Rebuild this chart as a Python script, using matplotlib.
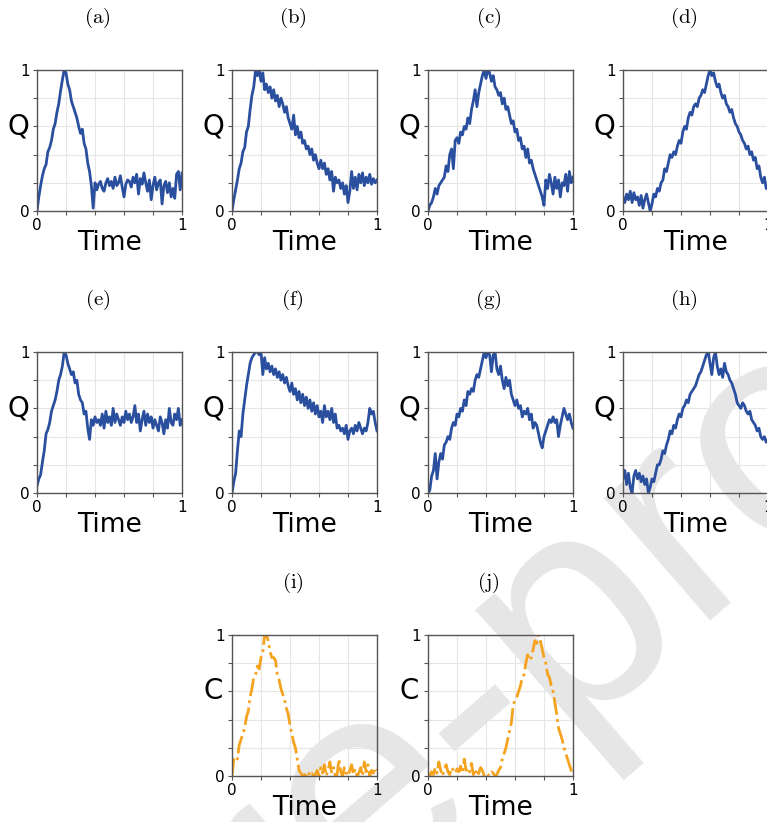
"""Ten small time-series panels (Q and C vs normalised time), 4-4-2 layout."""
import matplotlib
import numpy as np

matplotlib.use("Agg")
import matplotlib.pyplot as plt

plt.rcParams["mathtext.fontset"] = "cm"

W, H = 767, 822

# y-values sampled on a uniform time grid 0..1 (81 points each)
q_a = [0.00, 0.10, 0.18, 0.25, 0.30, 0.33, 0.42, 0.45, 0.50, 0.58,
       0.62, 0.70, 0.76, 0.85, 0.93, 1.00, 0.98, 0.90, 0.86, 0.78,
       0.74, 0.70, 0.66, 0.60, 0.55, 0.58, 0.48, 0.44, 0.34, 0.28,
       0.18, 0.02, 0.20, 0.15, 0.19, 0.21, 0.16, 0.14, 0.20, 0.23,
       0.18, 0.21, 0.16, 0.24, 0.18, 0.20, 0.25, 0.17, 0.10, 0.19,
       0.22, 0.21, 0.17, 0.24, 0.20, 0.26, 0.12, 0.23, 0.19, 0.27,
       0.20, 0.14, 0.22, 0.08, 0.18, 0.24, 0.15, 0.20, 0.22, 0.05,
       0.18, 0.21, 0.13, 0.20, 0.10, 0.16, 0.09, 0.26, 0.28, 0.15,
       0.27]
q_b = [0.00, 0.08, 0.15, 0.22, 0.30, 0.34, 0.42, 0.45, 0.56, 0.60,
       0.72, 0.82, 0.88, 1.00, 0.96, 1.00, 0.92, 0.98, 0.86, 0.90,
       0.84, 0.88, 0.80, 0.86, 0.78, 0.82, 0.74, 0.80, 0.76, 0.70,
       0.74, 0.66, 0.62, 0.58, 0.68, 0.54, 0.60, 0.52, 0.56, 0.48,
       0.50, 0.44, 0.46, 0.40, 0.44, 0.36, 0.40, 0.34, 0.30, 0.36,
       0.30, 0.34, 0.26, 0.30, 0.22, 0.28, 0.14, 0.24, 0.20, 0.22,
       0.16, 0.20, 0.12, 0.18, 0.06, 0.14, 0.28, 0.16, 0.24, 0.15,
       0.26, 0.20, 0.27, 0.18, 0.24, 0.20, 0.26, 0.19, 0.23, 0.20,
       0.22]
q_c = [0.00, 0.04, 0.06, 0.10, 0.16, 0.12, 0.18, 0.20, 0.22, 0.24,
       0.32, 0.28, 0.40, 0.44, 0.30, 0.50, 0.52, 0.48, 0.56, 0.54,
       0.60, 0.58, 0.66, 0.62, 0.72, 0.78, 0.86, 0.74, 0.84, 0.90,
       0.96, 1.00, 0.94, 1.00, 0.98, 0.92, 0.96, 0.88, 0.86, 0.82,
       0.84, 0.76, 0.80, 0.72, 0.74, 0.68, 0.62, 0.64, 0.56, 0.58,
       0.50, 0.52, 0.44, 0.46, 0.38, 0.44, 0.34, 0.36, 0.30, 0.26,
       0.22, 0.18, 0.14, 0.10, 0.04, 0.22, 0.16, 0.26, 0.20, 0.12,
       0.24, 0.16, 0.22, 0.10, 0.20, 0.18, 0.26, 0.14, 0.28, 0.20,
       0.24]
q_d = [0.10, 0.06, 0.12, 0.08, 0.14, 0.06, 0.13, 0.08, 0.10, 0.04,
       0.11, 0.02, 0.08, 0.12, 0.06, 0.00, 0.05, 0.12, 0.10, 0.16,
       0.14, 0.20, 0.22, 0.30, 0.28, 0.34, 0.40, 0.38, 0.42, 0.40,
       0.46, 0.50, 0.48, 0.56, 0.60, 0.58, 0.66, 0.70, 0.68, 0.74,
       0.76, 0.74, 0.80, 0.82, 0.86, 0.84, 0.90, 0.96, 1.00, 0.96,
       0.98, 0.92, 0.88, 0.90, 0.84, 0.80, 0.82, 0.76, 0.74, 0.70,
       0.72, 0.66, 0.62, 0.60, 0.56, 0.54, 0.50, 0.48, 0.44, 0.46,
       0.40, 0.42, 0.36, 0.38, 0.30, 0.32, 0.24, 0.20, 0.24, 0.16,
       0.16]
q_e = [0.05, 0.10, 0.13, 0.22, 0.30, 0.42, 0.45, 0.50, 0.58, 0.62,
       0.66, 0.72, 0.80, 0.84, 0.90, 1.00, 0.98, 0.92, 0.88, 0.84,
       0.86, 0.78, 0.80, 0.70, 0.66, 0.64, 0.56, 0.58, 0.46, 0.38,
       0.52, 0.48, 0.54, 0.50, 0.52, 0.48, 0.56, 0.46, 0.58, 0.50,
       0.54, 0.48, 0.60, 0.50, 0.56, 0.52, 0.48, 0.54, 0.50, 0.58,
       0.52, 0.56, 0.50, 0.54, 0.62, 0.50, 0.56, 0.44, 0.52, 0.58,
       0.48, 0.56, 0.50, 0.54, 0.46, 0.52, 0.48, 0.44, 0.54, 0.50,
       0.42, 0.52, 0.46, 0.60, 0.50, 0.48, 0.56, 0.52, 0.60, 0.48,
       0.52]
q_f = [0.00, 0.08, 0.14, 0.30, 0.44, 0.40, 0.56, 0.66, 0.76, 0.84,
       0.92, 0.96, 0.98, 1.00, 1.00, 0.98, 1.00, 0.84, 0.96, 0.88,
       0.92, 0.86, 0.90, 0.84, 0.88, 0.82, 0.86, 0.80, 0.84, 0.78,
       0.82, 0.76, 0.72, 0.78, 0.70, 0.74, 0.66, 0.72, 0.64, 0.70,
       0.62, 0.68, 0.60, 0.66, 0.58, 0.64, 0.56, 0.62, 0.54, 0.58,
       0.50, 0.62, 0.54, 0.58, 0.52, 0.60, 0.50, 0.56, 0.46, 0.48,
       0.44, 0.46, 0.42, 0.48, 0.38, 0.44, 0.46, 0.42, 0.48, 0.44,
       0.50, 0.46, 0.42, 0.46, 0.44, 0.50, 0.60, 0.56, 0.58, 0.50,
       0.44]
q_g = [0.00, 0.02, 0.12, 0.16, 0.28, 0.10, 0.22, 0.28, 0.24, 0.34,
       0.36, 0.40, 0.38, 0.46, 0.50, 0.48, 0.56, 0.54, 0.60, 0.58,
       0.66, 0.62, 0.72, 0.70, 0.74, 0.72, 0.80, 0.84, 0.82, 0.88,
       0.94, 1.00, 0.96, 1.00, 0.98, 0.86, 0.98, 1.00, 0.88, 0.84,
       0.90, 0.80, 0.74, 0.82, 0.76, 0.80, 0.70, 0.66, 0.62, 0.66,
       0.60, 0.62, 0.54, 0.58, 0.56, 0.60, 0.52, 0.56, 0.46, 0.50,
       0.48, 0.42, 0.36, 0.32, 0.40, 0.44, 0.48, 0.52, 0.50, 0.54,
       0.50, 0.52, 0.40, 0.48, 0.54, 0.60, 0.56, 0.52, 0.56, 0.50,
       0.46]
q_h = [0.10, 0.16, 0.06, 0.14, 0.04, 0.00, 0.12, 0.16, 0.10, 0.14,
       0.08, 0.12, 0.06, 0.10, 0.00, 0.04, 0.10, 0.08, 0.14, 0.20,
       0.20, 0.24, 0.30, 0.28, 0.34, 0.38, 0.44, 0.42, 0.48, 0.46,
       0.52, 0.56, 0.54, 0.60, 0.62, 0.66, 0.64, 0.70, 0.72, 0.74,
       0.76, 0.80, 0.84, 0.86, 0.90, 0.94, 0.98, 1.00, 0.92, 0.84,
       0.96, 1.00, 0.90, 0.84, 0.88, 0.82, 0.92, 0.86, 0.84, 0.80,
       0.78, 0.74, 0.70, 0.64, 0.62, 0.60, 0.64, 0.62, 0.58, 0.56,
       0.58, 0.52, 0.50, 0.48, 0.44, 0.46, 0.40, 0.38, 0.40, 0.36,
       0.38]
c_i = [0.00, 0.12, 0.14, 0.12, 0.22, 0.26, 0.30, 0.34, 0.42, 0.46,
       0.56, 0.62, 0.70, 0.72, 0.78, 0.76, 0.84, 0.88, 1.00, 1.00,
       0.96, 0.88, 0.84, 0.84, 0.82, 0.72, 0.68, 0.62, 0.58, 0.54,
       0.48, 0.44, 0.36, 0.30, 0.24, 0.20, 0.12, 0.04, 0.02, 0.00,
       0.01, 0.00, 0.03, 0.00, 0.02, 0.00, 0.01, 0.04, 0.00, 0.06,
       0.02, 0.08, 0.00, 0.04, 0.10, 0.02, 0.06, 0.00, 0.01, 0.12,
       0.03, 0.00, 0.06, 0.02, 0.00, 0.04, 0.08, 0.01, 0.05, 0.00,
       0.02, 0.06, 0.00, 0.10, 0.03, 0.08, 0.00, 0.04, 0.02, 0.06,
       0.04]
c_j = [0.02, 0.00, 0.03, 0.01, 0.06, 0.02, 0.10, 0.04, 0.00, 0.05,
       0.08, 0.03, 0.01, 0.06, 0.04, 0.02, 0.05, 0.03, 0.07, 0.02,
       0.12, 0.04, 0.06, 0.03, 0.09, 0.01, 0.05, 0.00, 0.02, 0.06,
       0.04, 0.00, 0.02, 0.01, 0.00, 0.03, 0.02, 0.00, 0.01, 0.04,
       0.06, 0.12, 0.16, 0.20, 0.26, 0.32, 0.38, 0.50, 0.54, 0.56,
       0.60, 0.64, 0.70, 0.72, 0.80, 0.86, 0.82, 0.84, 0.90, 0.96,
       0.94, 1.00, 0.96, 0.90, 0.84, 0.80, 0.72, 0.70, 0.64, 0.60,
       0.52, 0.44, 0.34, 0.30, 0.26, 0.20, 0.16, 0.12, 0.08, 0.04,
       0.00]

PANELS = [
    ("a", q_a, "Q"), ("b", q_b, "Q"), ("c", q_c, "Q"), ("d", q_d, "Q"),
    ("e", q_e, "Q"), ("f", q_f, "Q"), ("g", q_g, "Q"), ("h", q_h, "Q"),
    ("i", c_i, "C"), ("j", c_j, "C"),
]

# layout in pixels: axes (left, top) and title centre y
COL_LEFT = [37, 232, 428, 623]
ROW_TOP = [70, 352, 635]
ROW_TITLE_Y = [18, 300, 583]
AX_W, AX_H = 145, 141
SLOTS = [(0, 0), (0, 1), (0, 2), (0, 3),
         (1, 0), (1, 1), (1, 2), (1, 3),
         (2, 1), (2, 2)]

BLUE = "#2a4f9f"
ORANGE = "#f5a31e"


def main() -> None:
    fig = plt.figure(figsize=(W / 100, H / 100), dpi=100)

    # page watermark crossing the lower right of the crop
    fig.text(125 / W, 1 - 1108 / H, "Pre-proof", fontsize=220,
             family="Liberation Sans", color="#e6e6e6", rotation=41,
             rotation_mode="anchor", ha="left", va="baseline", zorder=-1)

    for (tag, ys, ylab), (r, c) in zip(PANELS, SLOTS):
        left, top = COL_LEFT[c], ROW_TOP[r]
        ax = fig.add_axes([left / W, 1 - (top + AX_H) / H, AX_W / W, AX_H / H])
        ax.set_facecolor("none")
        x = np.linspace(0, 1, len(ys))
        if ylab == "C":
            ax.plot(x, ys, color=ORANGE, lw=2.0, ls="-.")
        else:
            ax.plot(x, ys, color=BLUE, lw=2.0)
        ax.set_xlim(0, 1)
        ax.set_ylim(0, 1)
        ticks = np.linspace(0, 1, 6)
        ax.set_xticks(ticks)
        ax.set_yticks(ticks)
        ax.set_xticklabels(["0", "", "", "", "", "1"])
        ax.set_yticklabels(["0", "", "", "", "", "1"])
        ax.tick_params(labelsize=11, length=3, width=0.8, color="#555555", pad=2)
        ax.grid(True, color="#e6e6e6", lw=0.8)
        ax.set_axisbelow(True)
        for s in ax.spines.values():
            s.set_color("#555555")
            s.set_linewidth(1.0)
        ax.set_xlabel("Time", fontsize=19)
        ax.xaxis.set_label_coords(0.5, -0.23)
        ax.xaxis.label.set_va("center")
        ax.set_ylabel(ylab, fontsize=20, rotation=0, va="center", ha="center")
        ax.yaxis.set_label_coords(-0.13, 0.6)

        tx = left + AX_W / 2 - 12
        fig.text(tx / W, 1 - ROW_TITLE_Y[r] / H, rf"$\mathrm{{({tag})}}$",
                 fontsize=15, ha="center", va="center")

    fig.savefig("out.png", dpi=100)


if __name__ == "__main__":
    main()
